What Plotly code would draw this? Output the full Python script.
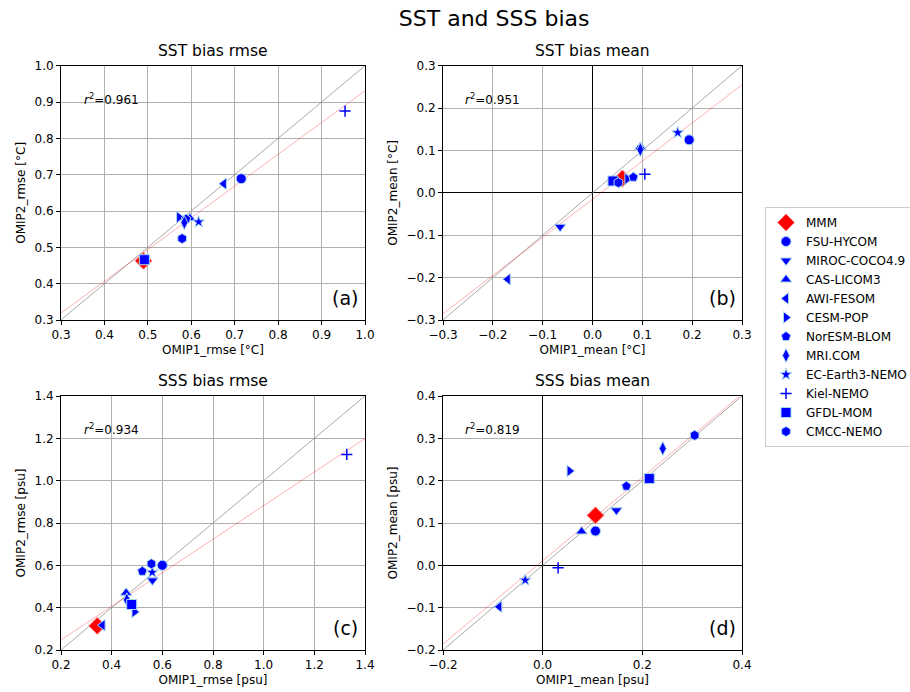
import plotly.graph_objects as go

models = ["MMM", "FSU-HYCOM", "MIROC-COCO4.9", "CAS-LICOM3", "AWI-FESOM", "CESM-POP",
          "NorESM-BLOM", "MRI.COM", "EC-Earth3-NEMO", "Kiel-NEMO", "GFDL-MOM", "CMCC-NEMO"]
symbols = ["diamond", "circle", "triangle-down", "triangle-up", "triangle-left", "triangle-right",
           "pentagon", "diamond-tall", "star", "cross-thin", "square", "hexagon"]

# (a) SST bias rmse
sst_rmse_omip1 = [0.490, 0.715, 0.585, 0.597, 0.675, 0.572, 0.588, 0.584, 0.617, 0.954, 0.492, 0.579]
sst_rmse_omip2 = [0.463, 0.689, 0.575, 0.580, 0.675, 0.583, 0.578, 0.568, 0.570, 0.875, 0.466, 0.524]
# (b) SST bias mean
sst_mean_omip1 = [0.060, 0.194, -0.065, 0.096, -0.170, 0.070, 0.082, 0.096, 0.171, 0.105, 0.041, 0.052]
sst_mean_omip2 = [0.034, 0.125, -0.080, 0.108, -0.204, 0.033, 0.037, 0.102, 0.142, 0.044, 0.028, 0.024]
# (c) SSS bias rmse
sss_rmse_omip1 = [0.343, 0.600, 0.561, 0.457, 0.364, 0.490, 0.521, 0.460, 0.560, 1.328, 0.479, 0.557]
sss_rmse_omip2 = [0.314, 0.600, 0.529, 0.470, 0.317, 0.380, 0.572, 0.437, 0.567, 1.124, 0.415, 0.607]
# (d) SSS bias mean
sss_mean_omip1 = [0.106, 0.106, 0.148, 0.078, -0.087, 0.054, 0.168, 0.241, -0.035, 0.031, 0.214, 0.305]
sss_mean_omip2 = [0.118, 0.081, 0.130, 0.080, -0.098, 0.223, 0.187, 0.276, -0.035, -0.006, 0.205, 0.307]

fit_slope = [0.874, 0.90, 0.793, 0.984]
fit_intercept = [0.057, -0.015, 0.089, 0.011]
r2_labels = ["0.961", "0.951", "0.934", "0.819"]
panel_letters = ["(a)", "(b)", "(c)", "(d)"]
titles = ["SST bias rmse", "SST bias mean", "SSS bias rmse", "SSS bias mean"]
xlabels = ["OMIP1_rmse [°C]", "OMIP1_mean [°C]", "OMIP1_rmse [psu]", "OMIP1_mean [psu]"]
ylabels = ["OMIP2_rmse [°C]", "OMIP2_mean [°C]", "OMIP2_rmse [psu]", "OMIP2_mean [psu]"]
ranges = [(0.3, 1.0), (-0.3, 0.3), (0.2, 1.4), (-0.2, 0.4)]
xdtick = [0.1, 0.1, 0.2, 0.2]
ydtick = [0.1, 0.1, 0.2, 0.1]

panels = [(sst_rmse_omip1, sst_rmse_omip2), (sst_mean_omip1, sst_mean_omip2),
          (sss_rmse_omip1, sss_rmse_omip2), (sss_mean_omip1, sss_mean_omip2)]

W, H = 910, 692
xdoms = [(61 / W, 365 / W), (443 / W, 742 / W)]
ydoms = [(1 - 320 / H, 1 - 65.7 / H), (1 - 650 / H, 1 - 396 / H)]

FONT = "DejaVu Sans"
FS = 12
fig = go.Figure()

for p in range(4):
    ax = "" if p == 0 else str(p + 1)
    xr, yr = "x" + ax, "y" + ax
    lo, hi = ranges[p]
    # 1:1 line
    fig.add_trace(go.Scatter(x=[lo, hi], y=[lo, hi], mode="lines", xaxis=xr, yaxis=yr,
                             line=dict(color="rgba(128,128,128,0.75)", width=0.9),
                             showlegend=False, hoverinfo="skip"))
    # regression line
    fig.add_trace(go.Scatter(x=[lo, hi], y=[fit_slope[p] * lo + fit_intercept[p],
                                            fit_slope[p] * hi + fit_intercept[p]],
                             mode="lines", xaxis=xr, yaxis=yr,
                             line=dict(color="rgba(255,0,0,0.35)", width=0.9),
                             showlegend=False, hoverinfo="skip"))
    xs, ys = panels[p]
    for i, m in enumerate(models):
        is_mmm = (i == 0)
        is_plus = symbols[i] == "cross-thin"
        is_star = symbols[i] == "star"
        color = "red" if is_mmm else "blue"
        size = 13 if is_mmm else (8 if is_plus else (9 if is_star else 10))
        fig.add_trace(go.Scatter(
            x=[xs[i]], y=[ys[i]], mode="markers", name=m, xaxis=xr, yaxis=yr,
            legendgroup=m, showlegend=(p == 0),
            marker=dict(symbol=symbols[i], color=color, size=size,
                        line=dict(color="blue" if is_plus else ("#ff8080" if is_mmm else "#a8d8f0"),
                                  width=1.5 if is_plus else 1))))
    col = p % 2
    row = p // 2
    common = dict(showline=True, linecolor="black", linewidth=1, mirror=True,
                  ticks="outside", ticklen=4, tickcolor="black",
                  showgrid=True, gridcolor="#b0b0b0", gridwidth=1,
                  zeroline=(p % 2 == 1), zerolinecolor="black", zerolinewidth=1.2,
                  tickformat=".1f", tickfont=dict(size=FS, color="black", family=FONT),
                  automargin=False)
    xkw = dict(domain=list(xdoms[col]), range=[lo, hi], dtick=xdtick[p], tick0=lo,
               title=dict(text=xlabels[p], font=dict(size=FS, color="black", family=FONT), standoff=4),
               anchor=yr, **common)
    ykw = dict(domain=list(ydoms[row]), range=[lo, hi], dtick=ydtick[p], tick0=lo,
               title=dict(text=ylabels[p], font=dict(size=FS, color="black", family=FONT), standoff=6),
               anchor=xr, **common)
    fig.update_layout(**{"xaxis" + ax: xkw, "yaxis" + ax: ykw})
    fig.add_annotation(text=titles[p], xref=xr + " domain", yref=yr + " domain",
                       x=0.5, y=1.0, yshift=4, xanchor="center", yanchor="bottom", showarrow=False,
                       font=dict(size=15.5, color="black", family=FONT))
    fig.add_annotation(text="<i>r</i><sup>2</sup>=" + r2_labels[p], xref=xr + " domain", yref=yr + " domain",
                       x=0.068, y=0.87, xanchor="left", yanchor="middle", showarrow=False,
                       font=dict(size=FS, color="black", family=FONT))
    fig.add_annotation(text=panel_letters[p], xref=xr + " domain", yref=yr + " domain",
                       x=0.985, y=0.035, xanchor="right", yanchor="bottom", showarrow=False,
                       font=dict(size=19, color="black", family=FONT))

fig.update_layout(
    width=W, height=H,
    margin=dict(l=0, r=0, t=0, b=0, autoexpand=False),
    paper_bgcolor="white", plot_bgcolor="white",
    font=dict(family=FONT, color="black"),
    title=dict(text="SST and SSS bias", x=0.543, xanchor="center", y=1 - 18 / H, yanchor="middle",
               font=dict(size=22, color="black", family=FONT), automargin=False),
    legend=dict(x=765 / W, y=1 - 207 / H, xanchor="left", yanchor="top",
                bordercolor="#cccccc", borderwidth=1, bgcolor="white",
                font=dict(size=FS, color="black", family=FONT), tracegroupgap=0),
)

fig.write_html("out.html", config={"displayModeBar": False},
               post_script="document.body.style.margin='0';document.body.style.padding='0';")
